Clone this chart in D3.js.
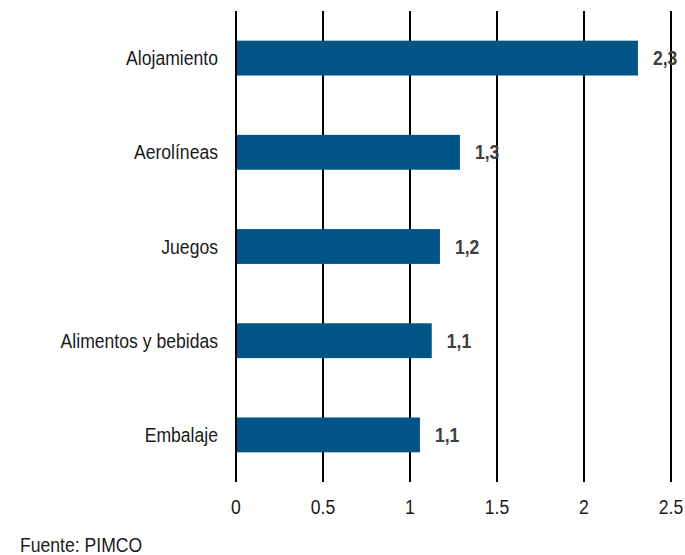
<!DOCTYPE html>
<html>
<head>
<meta charset="utf-8">
<script src="https://cdn.jsdelivr.net/npm/d3@7"></script>
<style>
  body { margin: 0; background: #fff; }
  text { font-family: "Liberation Sans", Arial, sans-serif; }
</style>
</head>
<body>
<div id="chart"></div>
<script>
const categories = ["Alojamiento", "Aerolíneas", "Juegos", "Alimentos y bebidas", "Embalaje"];
const values = [2.31, 1.287, 1.172, 1.125, 1.057];
const valueLabels = ["2,3", "1,3", "1,2", "1,1", "1,1"];
const tickValues = [0, 0.5, 1, 1.5, 2, 2.5];
const source = "Fuente: PIMCO";

const width = 685, height = 555;
const margin = {top: 11, right: 14, bottom: 73, left: 236};
const stretch = 1.12; // text in the reference is slightly tall
const fontSize = 17.6;

const svg = d3.select("#chart").append("svg")
    .attr("width", width)
    .attr("height", height);

const x = d3.scaleLinear()
    .domain([0, 2.5])
    .range([margin.left, width - margin.right]);

const y = d3.scaleBand()
    .domain(categories)
    .range([margin.top, height - margin.bottom])
    .paddingInner(0.63)
    .paddingOuter(0.315);

function place(px, py) {
    return "translate(" + px + "," + py + ") scale(1," + stretch + ")";
}

// vertical grid lines
svg.append("g")
    .selectAll("line")
    .data(tickValues)
    .enter()
    .append("line")
    .attr("x1", d => x(d))
    .attr("x2", d => x(d))
    .attr("y1", margin.top)
    .attr("y2", height - margin.bottom)
    .attr("stroke", "#000")
    .attr("stroke-width", 2);

// bars
svg.append("g")
    .selectAll("rect")
    .data(values)
    .enter()
    .append("rect")
    .attr("x", x(0) + 1)
    .attr("y", (d, i) => y(categories[i]))
    .attr("width", d => x(d) - x(0) - 1)
    .attr("height", y.bandwidth())
    .attr("fill", "#015486");

// value labels
svg.append("g")
    .selectAll("text")
    .data(values)
    .enter()
    .append("text")
    .attr("transform", (d, i) => place(x(d) + 15, y(categories[i]) + y.bandwidth() / 2 + 7))
    .attr("font-size", fontSize)
    .attr("font-weight", "bold")
    .attr("fill", "#404040")
    .text((d, i) => valueLabels[i]);

// category labels
svg.append("g")
    .selectAll("text")
    .data(categories)
    .enter()
    .append("text")
    .attr("transform", d => place(margin.left - 18, y(d) + y.bandwidth() / 2 + 7))
    .attr("text-anchor", "end")
    .attr("font-size", fontSize)
    .attr("fill", "#1a1a1a")
    .text(d => d);

// x axis tick labels
svg.append("g")
    .selectAll("text")
    .data(tickValues)
    .enter()
    .append("text")
    .attr("transform", d => place(x(d), 514))
    .attr("text-anchor", "middle")
    .attr("font-size", fontSize)
    .attr("fill", "#1a1a1a")
    .text(d => d);

svg.append("text")
    .attr("transform", place(20, 552))
    .attr("font-size", fontSize)
    .attr("fill", "#1a1a1a")
    .text(source);
</script>
</body>
</html>
